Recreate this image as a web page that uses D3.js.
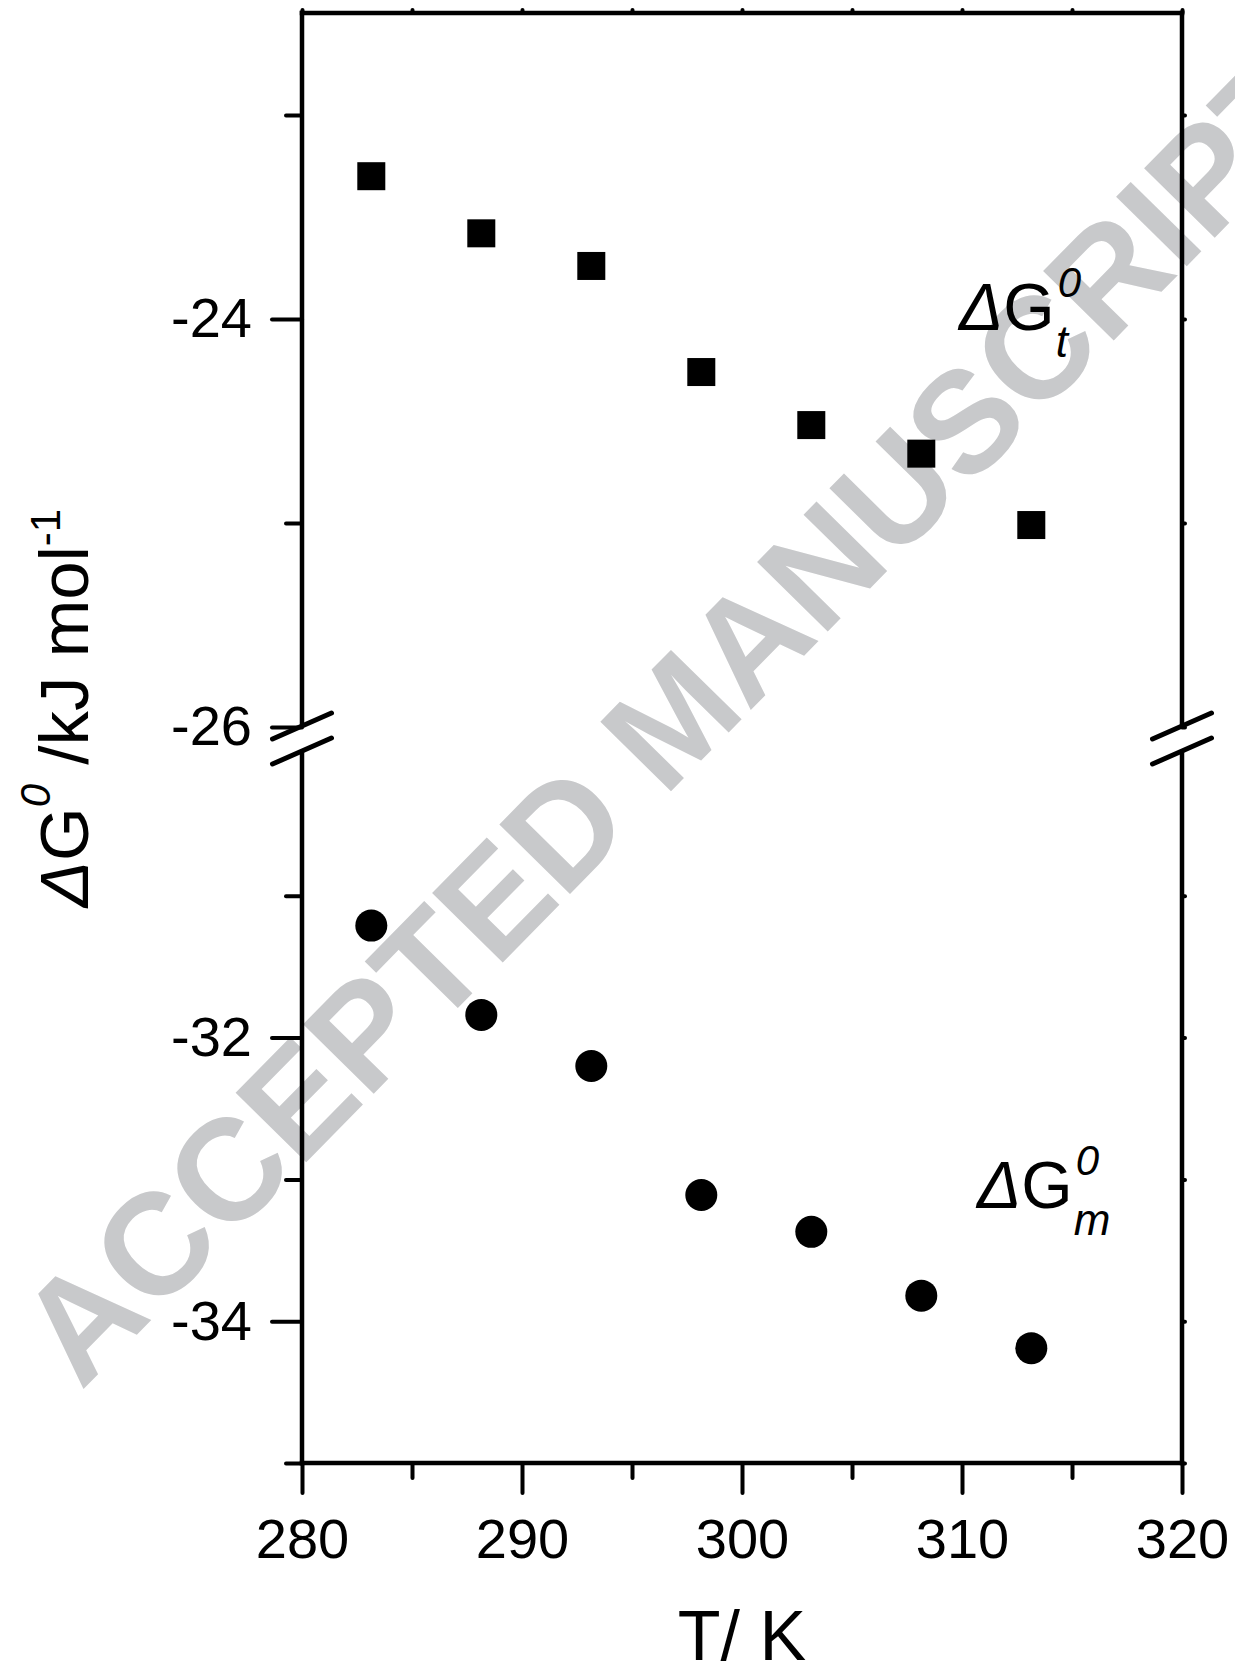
<!DOCTYPE html>
<html><head><meta charset="utf-8">
<script src="https://cdn.jsdelivr.net/npm/d3@7"></script>
<style>
body{margin:0;background:#fff}
text{font-family:"Liberation Sans",Arial,sans-serif;fill:#000}
</style>
</head><body>
<svg id="c" width="1235" height="1676"></svg>
<script>
// ---- data ----
const temperatures = [283.15, 288.15, 293.15, 298.15, 303.15, 308.15, 313.15];
const dGt = [-23.30, -23.58, -23.74, -24.26, -24.52, -24.66, -25.01];
const dGm = [-31.21, -31.84, -32.20, -33.11, -33.37, -33.82, -34.19];
const xDomain = [280, 320];
const xTicks = [280, 290, 300, 310, 320];
const xMinorTicks = [285, 295, 305, 315];
const yUpperDomain = [-26, -22.5];
const yUpperTicks = [-26, -24];
const yUpperMinor = [-25, -23];
const yLowerDomain = [-35, -30];
const yLowerTicks = [-34, -32];
const yLowerMinor = [-35, -33, -31];
const xTitle = "T/ K";
const watermark = "ACCEPTED MANUSCRIPT";

// ---- layout ----
const svg = d3.select("#c");
svg.append("rect").attr("width",1235).attr("height",1676).attr("fill","#fff");
const L = 302, R = 1182;
const x = d3.scaleLinear().domain(xDomain).range([L, R]);
const yU = d3.scaleLinear().domain(yUpperDomain).range([727, 13]);
const yL = d3.scaleLinear().domain(yLowerDomain).range([1463, 754]);
const AXW = 4.5, TKW = 4;
const fmt = d => String(d);   // plain hyphen-minus, as in the reference

// watermark
svg.append("text")
  .attr("transform","translate(672,716) rotate(-45.5)")
  .attr("text-anchor","middle").attr("dy","0.36em")
  .attr("font-size",144).attr("font-weight","bold")
  .style("fill","rgb(200,201,203)")
  .text(watermark);

function styleAxis(g){
  g.select(".domain").remove();
  g.selectAll(".tick line").attr("stroke","#000").attr("stroke-width",TKW).attr("stroke-linecap","round");
  g.selectAll(".tick text").attr("font-size",56).style("font-family",'"Liberation Sans",Arial,sans-serif');
}

// left axes
svg.append("g").attr("transform",`translate(${L},0)`)
  .call(d3.axisLeft(yU).tickValues(yUpperTicks).tickSize(30).tickPadding(20).tickFormat(fmt))
  .call(styleAxis);
svg.append("g").attr("transform",`translate(${L},0)`)
  .call(d3.axisLeft(yU).tickValues(yUpperMinor).tickSize(16).tickFormat(""))
  .call(styleAxis);
svg.append("g").attr("transform",`translate(${L},0)`)
  .call(d3.axisLeft(yL).tickValues(yLowerTicks).tickSize(30).tickPadding(20).tickFormat(fmt))
  .call(styleAxis);
svg.append("g").attr("transform",`translate(${L},0)`)
  .call(d3.axisLeft(yL).tickValues(yLowerMinor).tickSize(16).tickFormat(""))
  .call(styleAxis);
// right tiny ticks
svg.append("g").attr("transform",`translate(${R},0)`)
  .call(d3.axisRight(yU).tickValues(yUpperTicks.concat(yUpperMinor)).tickSize(3).tickFormat(""))
  .call(styleAxis);
svg.append("g").attr("transform",`translate(${R},0)`)
  .call(d3.axisRight(yL).tickValues(yLowerTicks.concat(yLowerMinor)).tickSize(3).tickFormat(""))
  .call(styleAxis);
// bottom axis
svg.append("g").attr("transform",`translate(0,${yL(yLowerDomain[0])})`)
  .call(d3.axisBottom(x).tickValues(xTicks).tickSize(30).tickPadding(25).tickFormat(fmt))
  .call(styleAxis);
svg.append("g").attr("transform",`translate(0,${yL(yLowerDomain[0])})`)
  .call(d3.axisBottom(x).tickValues(xMinorTicks).tickSize(15).tickFormat(""))
  .call(styleAxis);
// top tiny ticks
svg.append("g").attr("transform",`translate(0,${yU(yUpperDomain[1])})`)
  .call(d3.axisTop(x).tickValues(xTicks.concat(xMinorTicks)).tickSize(3).tickFormat(""))
  .call(styleAxis);

// frame lines
const frame = svg.append("g").attr("stroke","#000").attr("stroke-width",AXW).attr("stroke-linecap","square");
[L, R].forEach(px => {
  frame.append("line").attr("x1",px).attr("x2",px).attr("y1",yU(yUpperDomain[1])).attr("y2",yU(yUpperDomain[0])-3);
  frame.append("line").attr("x1",px).attr("x2",px).attr("y1",yL(yLowerDomain[1])).attr("y2",yL(yLowerDomain[0]));
});
frame.append("line").attr("x1",L).attr("x2",R).attr("y1",yU(yUpperDomain[1])).attr("y2",yU(yUpperDomain[1]));
frame.append("line").attr("x1",L).attr("x2",R).attr("y1",yL(yLowerDomain[0])).attr("y2",yL(yLowerDomain[0]));

// break marks
const brk = svg.append("g").attr("stroke","#000").attr("stroke-width",5).attr("stroke-linecap","round");
[L, R].forEach(px => {
  [yU(yUpperDomain[0]) - 1, yL(yLowerDomain[1]) - 3].forEach(cy => {
    brk.append("line").attr("x1",px-29.5).attr("y1",cy+13).attr("x2",px+29.5).attr("y2",cy-13);
  });
});

// data markers
svg.append("g").selectAll("rect").data(temperatures).join("rect")
  .attr("x",(d)=>x(d)-14).attr("y",(d,i)=>yU(dGt[i])-14)
  .attr("width",28).attr("height",28).attr("fill","#000");
svg.append("g").selectAll("circle").data(temperatures).join("circle")
  .attr("cx",(d)=>x(d)).attr("cy",(d,i)=>yL(dGm[i])).attr("r",16).attr("fill","#000");

// annotations
function dgLabel(px, py, sub){
  const t = svg.append("text").attr("x",px).attr("y",py).attr("font-size",66);
  t.append("tspan").attr("font-style","italic").text("Δ");
  t.append("tspan").text("G");
  const w = t.node().getComputedTextLength();
  svg.append("text").attr("x",px+w+3).attr("y",py-33).attr("font-size",42).attr("font-style","italic").text("0");
  svg.append("text").attr("x",px+w+1).attr("y",py+27).attr("font-size",44).attr("font-style","italic").text(sub);
}
dgLabel(959, 330, "t");
dgLabel(977, 1208, "m");

// y-axis title
const yt = svg.append("text").attr("transform","translate(88,708) rotate(-90)")
  .attr("text-anchor","middle").attr("font-size",69);
yt.append("tspan").attr("font-style","italic").text("Δ");
yt.append("tspan").text("G");
yt.append("tspan").attr("font-size",42).attr("font-style","italic").attr("dy",-38).text("0");
yt.append("tspan").attr("dy",38).text(" /kJ mol");
yt.append("tspan").attr("font-size",42).attr("dy",-28).text("-1");

// x-axis title
svg.append("text").attr("x",(L+R)/2).attr("y",1660).attr("text-anchor","middle")
  .attr("font-size",70).text(xTitle);
</script>
</body></html>
